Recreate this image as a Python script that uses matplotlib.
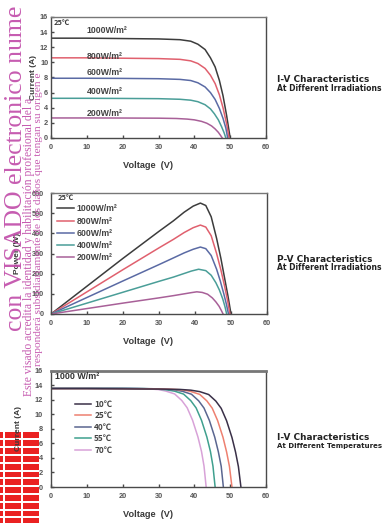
import matplotlib
matplotlib.use("Agg")
import matplotlib.pyplot as plt
from matplotlib.patches import Rectangle

# ---- data ----------------------------------------------------------------
irr_labels = ["1000W/m²", "800W/m²", "600W/m²", "400W/m²", "200W/m²"]
temp_labels = ["10℃", "25℃", "40℃", "55℃", "70℃"]

# I-V at different irradiations (25 C)
iv_v_1000 = [0, 10, 20, 30, 36, 39, 41, 43, 44.5, 45.8, 47, 48, 49, 50]
iv_i_1000 = [13.2, 13.2, 13.15, 13.1, 13.0, 12.8, 12.4, 11.7, 10.6, 9.4, 7.6, 5.6, 3.0, 0]
iv_v_800 = [0, 10, 20, 30, 36, 39, 41, 43, 44.5, 45.8, 47, 48, 49, 49.7]
iv_i_800 = [10.6, 10.6, 10.55, 10.5, 10.4, 10.2, 9.85, 9.2, 8.3, 7.2, 5.7, 4.0, 1.9, 0]
iv_v_600 = [0, 10, 20, 30, 36, 39, 41, 43, 44.5, 45.8, 47, 48, 48.8, 49.3]
iv_i_600 = [7.9, 7.9, 7.88, 7.84, 7.75, 7.6, 7.3, 6.75, 6.0, 5.1, 3.9, 2.6, 1.3, 0]
iv_v_400 = [0, 10, 20, 30, 36, 39, 41, 43, 44.5, 45.6, 46.7, 47.6, 48.3, 48.8]
iv_i_400 = [5.25, 5.25, 5.23, 5.2, 5.12, 5.0, 4.8, 4.4, 3.85, 3.2, 2.4, 1.5, 0.7, 0]
iv_v_200 = [0, 10, 20, 30, 35, 38, 40, 42, 43.5, 44.8, 45.8, 46.7, 47.3, 47.8]
iv_i_200 = [2.65, 2.65, 2.64, 2.62, 2.58, 2.5, 2.4, 2.2, 1.95, 1.6, 1.2, 0.75, 0.35, 0]

# P-V at different irradiations (25 C)
pv_v_1000 = [0, 10, 20, 30, 34, 37, 39.5, 41.5, 43, 44.5, 46, 47.2, 48.2, 49.2, 50]
pv_p_1000 = [0, 138, 276, 410, 462, 505, 535, 550, 538, 482, 375, 275, 180, 85, 0]
pv_v_800 = [0, 10, 20, 30, 34, 37, 39.5, 41.5, 43, 44.5, 46, 47.2, 48.2, 49.1, 49.7]
pv_p_800 = [0, 110, 220, 328, 370, 404, 428, 441, 431, 388, 300, 218, 140, 62, 0]
pv_v_600 = [0, 10, 20, 30, 34, 37, 39.5, 41.5, 43, 44.5, 46, 47, 48, 48.7, 49.3]
pv_p_600 = [0, 82, 164, 245, 278, 303, 321, 332, 324, 290, 222, 165, 100, 50, 0]
pv_v_400 = [0, 10, 20, 30, 34, 37, 39, 41, 43, 44.5, 45.8, 46.8, 47.7, 48.3, 48.8]
pv_p_400 = [0, 54, 108, 162, 183, 201, 213, 222, 215, 192, 155, 118, 75, 38, 0]
pv_v_200 = [0, 10, 20, 30, 34, 37, 39, 40.5, 42, 43.5, 44.8, 45.8, 46.7, 47.3, 47.8]
pv_p_200 = [0, 27, 54, 80, 91, 100, 106, 110, 107, 98, 80, 60, 38, 18, 0]

# I-V at different temperatures (1000 W/m2)
tv_v_10 = [0, 10, 20, 30, 36, 39, 41.5, 44, 46, 47.5, 49, 50.5, 51.5, 52.3, 53]
tv_i_10 = [13.5, 13.5, 13.48, 13.45, 13.4, 13.3, 13.1, 12.7, 11.8, 10.8, 9.1, 6.8, 4.8, 2.8, 0]
tv_v_25 = [0, 10, 20, 30, 34, 37, 39, 41.5, 43.5, 45, 46.5, 48, 49, 49.8, 50.5]
tv_i_25 = [13.52, 13.52, 13.5, 13.46, 13.42, 13.32, 13.12, 12.72, 11.82, 10.82, 9.12, 6.82, 4.82, 2.82, 0]
tv_v_40 = [0, 10, 20, 28, 31.5, 34.5, 36.7, 39.2, 41.2, 42.7, 44.2, 45.7, 46.7, 47.5, 48.1]
tv_i_40 = [13.55, 13.55, 13.53, 13.5, 13.44, 13.34, 13.14, 12.74, 11.84, 10.84, 9.14, 6.84, 4.84, 2.84, 0]
tv_v_55 = [0, 10, 20, 26, 29, 32, 34.5, 37, 39, 40.5, 42, 43.5, 44.5, 45.2, 45.8]
tv_i_55 = [13.58, 13.58, 13.56, 13.52, 13.46, 13.36, 13.16, 12.76, 11.86, 10.86, 9.16, 6.86, 4.86, 2.86, 0]
tv_v_70 = [0, 10, 20, 24, 27, 30, 32, 34.5, 36.5, 38, 39.5, 41, 42, 42.7, 43.3]
tv_i_70 = [13.6, 13.6, 13.58, 13.54, 13.48, 13.38, 13.18, 12.78, 11.88, 10.88, 9.18, 6.88, 4.88, 2.88, 0]

x_ticks = [0, 10, 20, 30, 40, 50, 60]
i_ticks = [0, 2, 4, 6, 8, 10, 12, 14, 16]
p_ticks = [0, 100, 200, 300, 400, 500, 600]

PALETTE = {
    "frame": "#4a4a4a",
    "text":  "#3a3a3a",
    "tick":  "#555555",
    "wm":    "#c04aa8",
    "red":   "#ea2222",
}
IRR_COLORS = ["#3c3c3c", "#e0606e", "#5a6aa4", "#4a9e98", "#a86098"]
TMP_COLORS = ["#3a3048", "#ee8070", "#5a6690", "#3fa08e", "#d8a2d8"]

FONT = "Liberation Sans"
WIDE = "DejaVu Sans"
CJK = ["Noto Sans CJK SC", FONT]

fig = plt.figure(figsize=(3.84, 5.23), dpi=100)
fig.patch.set_facecolor("white")


def style_axes(ax, yticks, ymax, ypad, xlab_y):
    ax.set_xlim(0, 60)
    ax.set_ylim(0, ymax)
    ax.set_xticks(x_ticks)
    ax.set_yticks(yticks)
    ax.tick_params(direction="in", length=2, width=1, colors=PALETTE["frame"],
                   labelsize=5.3, labelcolor=PALETTE["tick"])
    ax.tick_params(axis="x", pad=4)
    ax.tick_params(axis="y", pad=ypad)
    for lab in ax.get_xticklabels() + ax.get_yticklabels():
        lab.set_fontweight("bold")
        lab.set_family(FONT)
    for sp in ax.spines.values():
        sp.set_edgecolor(PALETTE["frame"])
        sp.set_linewidth(1.0)
    ax.spines["top"].set_edgecolor("#777777")
    ax.set_xlabel("Voltage  (V)", fontsize=6.6, fontweight="bold", family=FONT,
                  color=PALETTE["text"])
    ax.xaxis.set_label_coords(0.45, xlab_y)


def side_title(y, line1, line2, size2=5.5):
    fig.text(277 / 384, 1 - y / 523, line1, fontsize=6.4, fontweight="bold",
             family=WIDE, color="#222222", va="center")
    fig.text(277 / 384, 1 - (y + 8) / 523, line2, fontsize=size2, fontweight="bold",
             family=WIDE, color="#222222", va="center")


# ---- panel 1: I-V vs irradiation ----------------------------------------
ax1 = fig.add_axes([51 / 384, 1 - 138 / 523, 215 / 384, 121 / 523])
iv_sets = [(iv_v_1000, iv_i_1000), (iv_v_800, iv_i_800), (iv_v_600, iv_i_600),
           (iv_v_400, iv_i_400), (iv_v_200, iv_i_200)]
for (v, i), c in zip(iv_sets, IRR_COLORS):
    ax1.plot(v, i, color=c, lw=1.1, solid_joinstyle="round")
style_axes(ax1, i_ticks, 16, 2, -0.19)
ax1.set_ylabel("Current (A)", fontsize=6, fontweight="bold", family=FONT,
               color=PALETTE["text"], labelpad=2)
ax1.text(0.8, 15.3, "25℃", fontsize=5.3, fontweight="bold", family=CJK,
         color=PALETTE["text"], va="center")
for lab, y in zip(irr_labels, [14.2, 10.8, 8.7, 6.1, 3.3]):
    ax1.text(10.0, y, lab, fontsize=6.3, fontweight="bold", family=FONT,
             color="#444444", va="center")
side_title(80, "I-V Characteristics", "At Different Irradiations")

# ---- panel 2: P-V vs irradiation ----------------------------------------
ax2 = fig.add_axes([51 / 384, 1 - 314 / 523, 216 / 384, 121 / 523])
pv_sets = [(pv_v_1000, pv_p_1000), (pv_v_800, pv_p_800), (pv_v_600, pv_p_600),
           (pv_v_400, pv_p_400), (pv_v_200, pv_p_200)]
for (v, p), c, lab in zip(pv_sets, IRR_COLORS, irr_labels):
    ax2.plot(v, p, color=c, lw=1.1, label=lab, solid_joinstyle="round")
style_axes(ax2, p_ticks, 600, 5, -0.19)
ax2.set_ylabel("Power (W)", fontsize=6, fontweight="bold", family=FONT,
               color=PALETTE["text"], labelpad=8)
leg2 = ax2.legend(loc="upper left", bbox_to_anchor=(0.03, 0.99), frameon=False,
                  title="25℃", alignment="left", borderpad=0, borderaxespad=0,
                  handlelength=1.9, handletextpad=0.3, labelspacing=0.37,
                  prop={"family": FONT, "size": 6.3, "weight": "bold"},
                  title_fontproperties={"family": CJK, "size": 5.3, "weight": "bold"})
for t in leg2.get_texts():
    t.set_color("#444444")
leg2.get_title().set_color(PALETTE["text"])
side_title(260, "P-V Characteristics", "At Different Irradiations")

# ---- panel 3: I-V vs temperature ----------------------------------------
ax3 = fig.add_axes([51 / 384, 1 - 487 / 523, 215 / 384, 116.5 / 523])
tv_sets = [(tv_v_70, tv_i_70), (tv_v_55, tv_i_55), (tv_v_40, tv_i_40),
           (tv_v_25, tv_i_25), (tv_v_10, tv_i_10)]
tv_cols = TMP_COLORS[::-1]
tv_labs = temp_labels[::-1]
handles = {}
for (v, i), c, lab in zip(tv_sets, tv_cols, tv_labs):
    handles[lab], = ax3.plot(v, i, color=c, lw=1.1, solid_joinstyle="round")
style_axes(ax3, i_ticks, 16, 6, -0.2)
ax3.spines["top"].set_linewidth(2.0)
ax3.set_ylabel("Current (A)", fontsize=6, fontweight="bold", family=FONT,
               color=PALETTE["text"], labelpad=9)
ax3.text(1.2, 15.2, "1000 W/m²", fontsize=6.4, fontweight="bold", family=FONT,
         color="#333333", va="center")
leg3 = ax3.legend([handles[l] for l in temp_labels], temp_labels, loc="upper left",
                  bbox_to_anchor=(0.11, 0.75), frameon=False, borderpad=0,
                  borderaxespad=0, handlelength=2.0, handletextpad=0.35,
                  labelspacing=0.3,
                  prop={"family": CJK, "size": 6.0, "weight": "bold"})
for t in leg3.get_texts():
    t.set_color("#444444")
side_title(438, "I-V Characteristics", "At Different Temperatures", size2=5.0)

# ---- scan overlays: stamp blocks and watermark ----------------------------
cols = [(0, 3.3), (4.7, 20.7), (23.3, 39.3)]
row_top = 432.5
while row_top < 523:
    for x0, x1 in cols:
        fig.patches.append(Rectangle((x0 / 384, 1 - (row_top + 5.8) / 523),
                                     (x1 - x0) / 384, 5.8 / 523,
                                     transform=fig.transFigure,
                                     facecolor=PALETTE["red"], edgecolor="none",
                                     zorder=-1))
    row_top += 7.8

wm = dict(rotation=90, rotation_mode="anchor", ha="left", va="baseline",
          family="Liberation Serif", color=PALETTE["wm"], alpha=0.9, zorder=10)
fig.text(21.5 / 384, 1 - 331 / 523, "con VISADO electronico nume", fontsize=18.5, **wm)
fig.text(32 / 384, 1 - 396 / 523,
         "Este visado acredita la identidad y habilitación profesional del a",
         fontsize=8.4, **wm)
fig.text(41 / 384, 1 - 366 / 523,
         "responderá subsidiariamente de los daños que tengan su origen e",
         fontsize=8.2, **wm)

fig.savefig("out.png", dpi=100, facecolor="white")
